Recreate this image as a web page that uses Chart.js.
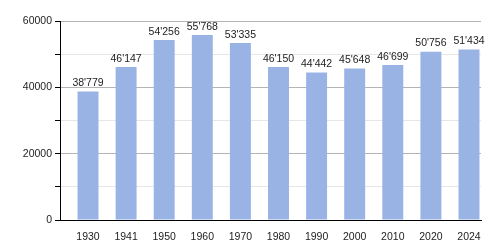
<!DOCTYPE html>
<html>
<head>
<meta charset="utf-8">
<script src="https://cdn.jsdelivr.net/npm/chart.js@4/dist/chart.umd.min.js"></script>
<style>
  html, body { margin: 0; padding: 0; background: #fff; }
  #wrap { width: 500px; height: 250px; }
</style>
</head>
<body>
<div id="wrap"><canvas id="myChart"></canvas></div>
<script>
const years = ['1930', '1941', '1950', '1960', '1970', '1980', '1990', '2000', '2010', '2020', '2024'];
const population = [38779, 46147, 54256, 55768, 53335, 46150, 44442, 45648, 46699, 50756, 51434];
const yTicks = [0, 20000, 40000, 60000];

const fmt = v => String(v).replace(/\B(?=(\d{3})+(?!\d))/g, "'");

// value labels above each bar
const barLabels = {
    id: 'barLabels',
    afterDatasetsDraw(chart) {
        const c = chart.ctx;
        const meta = chart.getDatasetMeta(0);
        c.save();
        c.font = '10.5px "Liberation Sans", Arial, sans-serif';
        c.fillStyle = '#222';
        c.textAlign = 'center';
        c.textBaseline = 'bottom';
        meta.data.forEach((bar, i) => {
            c.fillText(fmt(population[i]), bar.x, bar.y - 3);
        });
        c.restore();
    }
};

const ctx = document.getElementById('myChart');
const myChart = new Chart(ctx, {
    type: 'bar',
    data: {
        datasets: [{
            data: population.map((v, i) => ({ x: i, y: v })),
            backgroundColor: '#99b3e5',
            borderWidth: 0,
            barPercentage: 0.55,
            categoryPercentage: 1
        }]
    },
    options: {
        responsive: true,
        maintainAspectRatio: false,
        animation: false,
        layout: { padding: { top: 21, right: 19, left: 0, bottom: 0 } },
        plugins: { legend: { display: false }, tooltip: { enabled: false } },
        scales: {
            x: {
                type: 'linear',
                offset: false,
                min: -0.735,
                max: 10.315,
                afterBuildTicks: s => { s.ticks = years.map((_, i) => ({ value: i })) },
                afterFit: s => { s.height = 30 },
                grid: { display: false },
                border: { color: '#000', width: 1 },
                ticks: {
                    autoSkip: false,
                    maxRotation: 0,
                    padding: 3,
                    color: '#222',
                    font: { family: '"Liberation Sans", Arial, sans-serif', size: 10.5 },
                    callback: v => years[v]
                }
            },
            y: {
                min: 0,
                max: 60000,
                afterFit: s => { s.width = 60 },
                border: { color: '#000', width: 1 },
                grid: {
                    color: c => (c.tick && c.tick.value % 20000 === 0) ? '#b4b4b4' : '#e6e6e6',
                    tickColor: '#000',
                    tickLength: 5
                },
                ticks: {
                    stepSize: 10000,
                    padding: 3,
                    color: '#222',
                    font: { family: '"Liberation Sans", Arial, sans-serif', size: 10.5 },
                    callback: v => yTicks.includes(v) ? String(v) : ''
                }
            }
        }
    },
    plugins: [barLabels]
});
</script>
</body>
</html>
